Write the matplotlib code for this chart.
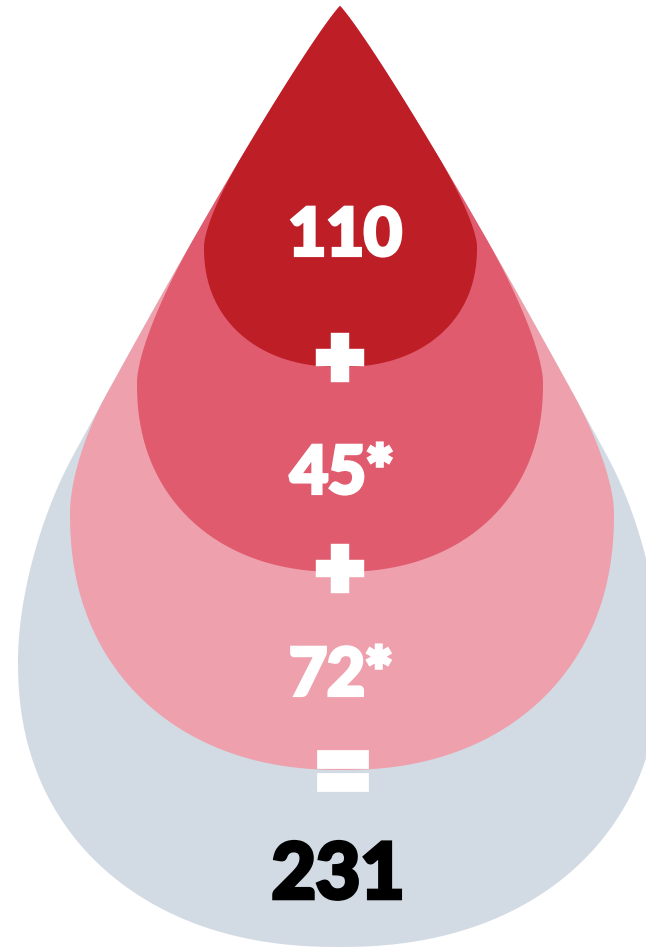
import numpy as np
import matplotlib
matplotlib.use("Agg")
import matplotlib.pyplot as plt
import matplotlib.patheffects as pe
from matplotlib.textpath import TextPath
from matplotlib.font_manager import FontProperties, findfont

# values shown in the drops (inner to outer) and the total
labels = ["110", "45*", "72*"]
operators = ["+", "+", "="]
total_label = "231"

# drop geometry in pixels: tip shared, one row per drop (inner -> outer)
tip_x, tip_y = 340, 6
depart = [150, 230, 390, 450]          # depth where the drop leaves the common outline
widest = [241, 377, 507, 655]          # depth of widest point
half_w = [136.5, 203, 272, 321]
below = [120, 189, 257, 286]
centre_x = [340.5, 340, 342, 339]
colours = ["#BE1E26", "#E05B6E", "#EEA1AC", "#D2DBE4"]

# label positions (baseline y)
label_y = [255, 493, 695]
label_x = [345, 342, 341]
op_y = [361, 572, 771]
op_x = [340, 340, 343]

c_sil, p_sil = 1.01, 0.913


def outline(z):
    return c_sil * z ** p_sil


def slope(z):
    return p_sil * outline(z) / z


def bez(p0, p1, p2, p3, n=60):
    t = np.linspace(0, 1, n)[:, None]
    return ((1 - t) ** 3 * p0 + 3 * (1 - t) ** 2 * t * p1
            + 3 * (1 - t) * t ** 2 * p2 + t ** 3 * p3)


def side(sign, t0, zw, xw_off):
    # xw_off: horizontal distance of widest point from tip x
    z = np.linspace(0.01, t0, 80)
    top = np.column_stack([tip_x + sign * outline(z), tip_y + z])
    T = np.array([outline(t0), t0])
    zc = t0 + (xw_off - T[0]) / slope(t0)
    C = np.array([xw_off, zc])
    W = np.array([xw_off, zw])
    curve = bez(T, T + 0.6 * (C - T), W + 0.6 * (C - W), W)
    curve = np.column_stack([tip_x + sign * curve[:, 0], tip_y + curve[:, 1]])
    return np.vstack([top, curve])


def drop(i, n_exp=2.2):
    cx, a, b = centre_x[i], half_w[i], below[i]
    yw = tip_y + widest[i]
    right = side(1, depart[i], widest[i], cx + a - tip_x)
    left = side(-1, depart[i], widest[i], tip_x - (cx - a))
    th = np.linspace(0, np.pi, 200)
    cs, sn = np.cos(th), np.sin(th)
    bx = cx + a * np.sign(cs) * np.abs(cs) ** (2 / n_exp)
    by = yw + b * np.abs(sn) ** (2 / n_exp)
    bottom = np.column_stack([bx, by])
    pts = np.vstack([[[tip_x, tip_y]], right, bottom, left[::-1]])
    return pts


fig = plt.figure(figsize=(6.46, 9.5), dpi=100)
ax = fig.add_axes([0, 0, 1, 1])
ax.set_xlim(0, 646)
ax.set_ylim(950, 0)
ax.axis("off")

for i in reversed(range(4)):
    pts = drop(i)
    ax.fill(pts[:, 0], pts[:, 1], color=colours[i], lw=0)

font = ["Lato", "DejaVu Sans"]


def thick(lw, col):
    return [pe.Stroke(linewidth=lw, foreground=col, joinstyle="miter"), pe.Normal()]


for x, y, s in zip(label_x, label_y, labels):
    ax.text(x, y, s, color="white", fontsize=47, fontweight="bold",
            family=font, ha="center", va="baseline",
            path_effects=thick(3.0, "white"))


def eq_metrics(fam):
    fp = FontProperties(family=fam, weight="bold")
    polys = TextPath((0, 0), "=", size=1, prop=fp).to_polygons()
    spans = sorted((p[:, 1].min(), p[:, 1].max()) for p in polys)
    xs = np.concatenate([p[:, 0] for p in polys])
    t0 = spans[0][1] - spans[0][0]
    g0 = spans[-1][0] - spans[0][1]
    mid = (spans[0][0] + spans[-1][1]) / 2
    return t0, g0, xs.max() - xs.min(), mid


def equal_sign(x, y, bar=19, gap=4):
    # pick the installed bold face whose "=" is least wide for its bar spacing
    best = None
    for fam in ["Liberation Sans Narrow", "Lato", "Roboto", "Open Sans",
                "Noto Sans", "Inter", "Liberation Sans", "DejaVu Sans"]:
        try:
            findfont(FontProperties(family=fam, weight="bold"),
                     fallback_to_default=False)
            t0, g0, w0, mid = eq_metrics(fam)
        except Exception:
            continue
        em = (bar + gap) / (t0 + g0)
        width = w0 * em + bar - t0 * em
        if best is None or width < best[0]:
            best = (width, fam, em, bar - t0 * em, mid)
    _, fam, em, lw_px, mid = best
    ax.text(x, y + mid * em, "=", color="white", fontsize=em * 0.72,
            fontweight="bold", family=fam, ha="center", va="baseline",
            path_effects=thick(lw_px * 0.72, "white"))


for x, y, s in zip(op_x, op_y, operators):
    if s == "=":
        equal_sign(x, y)
    else:
        ax.text(x, y, s, color="white", fontsize=55, fontweight="bold",
                family=font, ha="center", va="center",
                path_effects=thick(7.5, "white"))

ax.text(338, 898, total_label, color="black", fontsize=55, fontweight="bold",
        family=font, ha="center", va="baseline",
        path_effects=thick(3.3, "black"))

fig.savefig("out.png", dpi=100)
